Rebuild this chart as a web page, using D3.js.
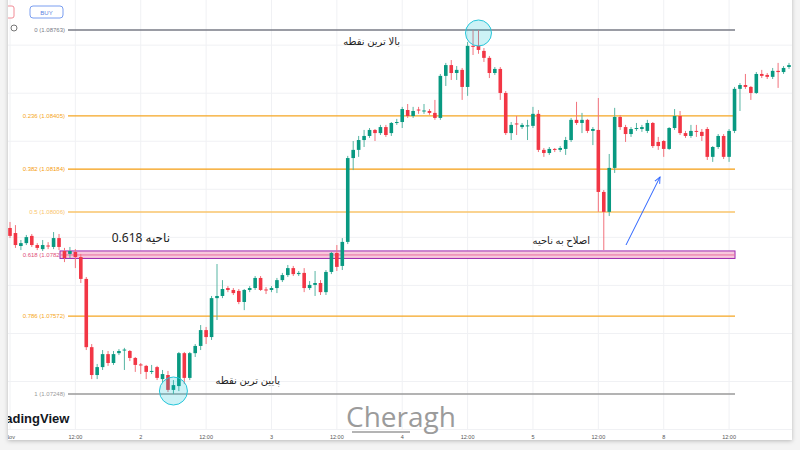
<!DOCTYPE html>
<html><head><meta charset="utf-8">
<script src="https://cdn.jsdelivr.net/npm/d3@7"></script>
<style>body{margin:0;background:#f4f4f4;}svg{display:block}</style>
</head><body>
<script>
// OHLC values
const open=[1.07939,1.07918,1.07864,1.07876,1.07906,1.07868,1.07851,1.07866,1.07860,1.07897,1.07843,1.07831,1.07839,1.07818,1.07727,1.07443,1.07327,1.07360,1.07414,1.07377,1.07418,1.07431,1.07427,1.07398,1.07371,1.07365,1.07340,1.07360,1.07310,1.07327,1.07265,1.07281,1.07418,1.07315,1.07418,1.07448,1.07514,1.07485,1.07647,1.07656,1.07689,1.07681,1.07677,1.07631,1.07681,1.07689,1.07731,1.07683,1.07681,1.07689,1.07722,1.07743,1.07772,1.07747,1.07752,1.07689,1.07702,1.07710,1.07672,1.07756,1.07835,1.07781,1.07881,1.08230,1.08264,1.08305,1.08322,1.08347,1.08334,1.08359,1.08334,1.08376,1.08380,1.08430,1.08405,1.08432,1.08424,1.08426,1.08418,1.08397,1.08572,1.08617,1.08584,1.08597,1.08526,1.08697,1.08697,1.08676,1.08647,1.08584,1.08601,1.08501,1.08334,1.08374,1.08359,1.08364,1.08364,1.08414,1.08264,1.08251,1.08268,1.08264,1.08268,1.08305,1.08389,1.08376,1.08389,1.08343,1.08347,1.08089,1.08006,1.08189,1.08401,1.08359,1.08330,1.08351,1.08351,1.08343,1.08376,1.08297,1.08301,1.08268,1.08355,1.08405,1.08334,1.08322,1.08343,1.08339,1.08351,1.08235,1.08276,1.08322,1.08235,1.08343,1.08518,1.08534,1.08526,1.08501,1.08580,1.08576,1.08568,1.08593,1.08588,1.08609];
const high=[1.07964,1.07951,1.07889,1.07910,1.07914,1.07876,1.07889,1.07880,1.07922,1.07914,1.07856,1.07860,1.07851,1.07831,1.07735,1.07456,1.07373,1.07431,1.07427,1.07427,1.07435,1.07440,1.07431,1.07402,1.07377,1.07369,1.07369,1.07365,1.07348,1.07344,1.07306,1.07423,1.07423,1.07423,1.07456,1.07535,1.07527,1.07656,1.07789,1.07722,1.07697,1.07689,1.07685,1.07685,1.07697,1.07739,1.07739,1.07693,1.07697,1.07731,1.07752,1.07785,1.07781,1.07760,1.07772,1.07718,1.07760,1.07722,1.07764,1.07839,1.07868,1.07897,1.08239,1.08301,1.08322,1.08347,1.08355,1.08351,1.08368,1.08368,1.08380,1.08393,1.08443,1.08455,1.08443,1.08443,1.08455,1.08434,1.08472,1.08580,1.08626,1.08638,1.08613,1.08605,1.08713,1.08763,1.08763,1.08688,1.08655,1.08609,1.08609,1.08509,1.08380,1.08405,1.08376,1.08389,1.08443,1.08430,1.08272,1.08276,1.08272,1.08280,1.08318,1.08397,1.08464,1.08418,1.08393,1.08359,1.08480,1.08097,1.08247,1.08439,1.08409,1.08368,1.08359,1.08376,1.08368,1.08389,1.08380,1.08318,1.08305,1.08359,1.08434,1.08426,1.08343,1.08368,1.08368,1.08351,1.08359,1.08280,1.08330,1.08330,1.08351,1.08526,1.08542,1.08580,1.08530,1.08588,1.08597,1.08584,1.08605,1.08626,1.08613,1.08626];
const low=[1.07897,1.07856,1.07847,1.07868,1.07860,1.07847,1.07843,1.07851,1.07851,1.07847,1.07797,1.07814,1.07772,1.07710,1.07431,1.07310,1.07310,1.07348,1.07365,1.07369,1.07410,1.07348,1.07385,1.07340,1.07331,1.07310,1.07331,1.07306,1.07298,1.07256,1.07248,1.07260,1.07290,1.07306,1.07402,1.07431,1.07456,1.07473,1.07556,1.07647,1.07672,1.07660,1.07622,1.07597,1.07672,1.07681,1.07677,1.07664,1.07672,1.07668,1.07714,1.07735,1.07739,1.07739,1.07672,1.07681,1.07656,1.07660,1.07660,1.07747,1.07760,1.07764,1.07872,1.08180,1.08235,1.08276,1.08314,1.08301,1.08326,1.08318,1.08322,1.08368,1.08355,1.08397,1.08397,1.08414,1.08414,1.08410,1.08389,1.08389,1.08530,1.08555,1.08555,1.08472,1.08489,1.08659,1.08664,1.08630,1.08563,1.08576,1.08472,1.08326,1.08305,1.08326,1.08351,1.08305,1.08355,1.08255,1.08235,1.08243,1.08255,1.08255,1.08243,1.08297,1.08368,1.08334,1.08334,1.08284,1.08006,1.07847,1.07989,1.08168,1.08347,1.08297,1.08318,1.08343,1.08339,1.08334,1.08272,1.08264,1.08235,1.08264,1.08347,1.08326,1.08314,1.08314,1.08318,1.08301,1.08222,1.08214,1.08268,1.08226,1.08214,1.08334,1.08426,1.08518,1.08472,1.08497,1.08563,1.08559,1.08559,1.08522,1.08580,1.08601];
const close=[1.07906,1.07868,1.07876,1.07901,1.07868,1.07856,1.07868,1.07862,1.07897,1.07860,1.07814,1.07843,1.07818,1.07727,1.07443,1.07327,1.07360,1.07414,1.07377,1.07414,1.07427,1.07433,1.07398,1.07369,1.07367,1.07340,1.07344,1.07315,1.07331,1.07265,1.07285,1.07418,1.07315,1.07418,1.07448,1.07514,1.07485,1.07647,1.07656,1.07685,1.07681,1.07668,1.07631,1.07681,1.07689,1.07731,1.07681,1.07679,1.07689,1.07722,1.07743,1.07772,1.07747,1.07752,1.07689,1.07702,1.07710,1.07672,1.07756,1.07835,1.07777,1.07881,1.08230,1.08264,1.08305,1.08322,1.08347,1.08334,1.08359,1.08326,1.08376,1.08380,1.08434,1.08405,1.08426,1.08428,1.08428,1.08418,1.08397,1.08572,1.08617,1.08584,1.08597,1.08526,1.08697,1.08693,1.08680,1.08647,1.08584,1.08601,1.08501,1.08334,1.08368,1.08370,1.08368,1.08366,1.08414,1.08264,1.08251,1.08268,1.08264,1.08272,1.08305,1.08389,1.08376,1.08389,1.08343,1.08351,1.08089,1.08006,1.08189,1.08401,1.08359,1.08330,1.08351,1.08355,1.08359,1.08376,1.08280,1.08280,1.08268,1.08355,1.08405,1.08334,1.08322,1.08343,1.08339,1.08322,1.08235,1.08276,1.08322,1.08235,1.08343,1.08518,1.08534,1.08526,1.08501,1.08580,1.08572,1.08568,1.08593,1.08588,1.08605,1.08617];
const fibRatios=[0,0.236,0.382,0.5,0.618,0.786,1];
const fibHigh=1.08763, fibLow=1.07248;
const fibColors=["#787b86","#f5a623","#f59d10","#f9c46b","#e0507a","#f5a623","#9a9a9a"];
const xTickIdx=[0,12,24,36,48,60,72,84,96,108,120,132];
const xTickLabels=["Nov","12:00","2","12:00","3","12:00","4","12:00","5","12:00","8","12:00"];

const W=800,H=450;
const svg=d3.select("body").append("svg").attr("width",W).attr("height",H);
svg.append("defs").html(`<filter id="sh" x="-5%" y="-5%" width="110%" height="110%"><feDropShadow dx="0" dy="1" stdDeviation="2" flood-color="#000" flood-opacity="0.25"/></filter>
<clipPath id="cp"><rect x="8" y="0" width="784" height="440"/></clipPath>
<marker id="ah" viewBox="0 0 10 10" refX="9" refY="5" markerWidth="7" markerHeight="7" orient="auto"><path d="M0,1 L9,5 L0,9" fill="none" stroke="#2962ff" stroke-width="1.3"/></marker>`);
svg.append("rect").attr("x",8).attr("y",-5).attr("width",784).attr("height",445).attr("fill","#fff").attr("filter","url(#sh)");
const g=svg.append("g").attr("clip-path","url(#cp)");
const x=d3.scaleLinear().domain([0,143]).range([10,789]);
const y=d3.scaleLinear().domain([fibLow,fibHigh]).range([394,30]);
g.selectAll(".hg").data(d3.range(1.071,1.089,0.002)).join("line").attr("x1",8).attr("x2",792).attr("y1",d=>y(d)).attr("y2",d=>y(d)).attr("stroke","#f0f1f4");
g.selectAll(".vg").data(xTickIdx).join("line").attr("x1",d=>x(d)).attr("x2",d=>x(d)).attr("y1",0).attr("y2",430).attr("stroke","#f0f1f4");
const fx1=68,fx2=735;
fibRatios.forEach((r,i)=>{
  const p=fibHigh-r*(fibHigh-fibLow), yy=y(p);
  g.append("line").attr("x1",fx1).attr("x2",fx2).attr("y1",yy).attr("y2",yy).attr("stroke",fibColors[i]).attr("stroke-width",1.3);
  g.append("text").attr("x",65).attr("y",yy+2).attr("text-anchor","end").attr("font-size",6).attr("font-family","Arial, Liberation Sans").attr("fill",fibColors[i]).text(`${r} (${p.toFixed(5)})`);
});
const z=y(fibHigh-0.618*(fibHigh-fibLow));
g.append("rect").attr("x",60).attr("y",z-4).attr("width",675).attr("height",7.5).attr("fill","#f8c8dc").attr("stroke","#9c27b0").attr("stroke-width",1);
g.append("line").attr("x1",60).attr("x2",735).attr("y1",z).attr("y2",z).attr("stroke","#e86fa0").attr("stroke-width",1);
const idx=d3.range(open.length);
const up=i=>close[i]>=open[i];
g.selectAll(".wk").data(idx).join("line").attr("x1",i=>x(i)).attr("x2",i=>x(i)).attr("y1",i=>y(high[i])).attr("y2",i=>y(low[i])).attr("stroke",i=>up(i)?"#57b5a3":"#f2727c").attr("stroke-width",1);
g.selectAll(".bd").data(idx).join("rect").attr("x",i=>x(i)-1.8).attr("width",3.6).attr("y",i=>y(Math.max(open[i],close[i]))).attr("height",i=>Math.max(1,Math.abs(y(open[i])-y(close[i])))).attr("fill",i=>up(i)?"#089981":"#f23645");
g.append("circle").attr("cx",x(86)).attr("cy",33).attr("r",13).attr("fill","rgba(0,188,212,0.2)").attr("stroke","#26c6da").attr("stroke-width",1);
g.append("circle").attr("cx",x(30)).attr("cy",391).attr("r",14).attr("fill","rgba(0,188,212,0.2)").attr("stroke","#26c6da").attr("stroke-width",1);
const tf="Noto Sans, DejaVu Sans, sans-serif";
g.append("text").attr("x",170).attr("y",242).attr("text-anchor","end").attr("font-size",12).attr("font-family",tf).attr("fill","#222").text("ناحیه 0.618");
g.append("text").attr("x",400).attr("y",45).attr("text-anchor","end").attr("font-size",10).attr("font-family",tf).attr("fill","#222").text("بالا ترین نقطه");
g.append("text").attr("x",280).attr("y",384).attr("text-anchor","end").attr("font-size",10).attr("font-family",tf).attr("fill","#222").text("پایین ترین نقطه");
g.append("text").attr("x",590).attr("y",244).attr("text-anchor","end").attr("font-size",10).attr("font-family",tf).attr("fill","#222").text("اصلاح به ناحیه");
g.append("line").attr("x1",626).attr("y1",245).attr("x2",660).attr("y2",177).attr("stroke","#2962ff").attr("stroke-width",1).attr("marker-end","url(#ah)");
g.selectAll(".xt").data(xTickIdx).join("text").attr("x",d=>x(d)).attr("y",439).attr("text-anchor","middle").attr("font-size",5.5).attr("font-family","Arial, Liberation Sans").attr("fill","#555").text((d,i)=>xTickLabels[i]);
g.append("text").attr("x",-7).attr("y",423).attr("font-size",13).attr("font-weight","bold").attr("font-family","Liberation Sans, Arial").attr("fill","#131722").text("TradingView");
svg.append("text").attr("x",346).attr("y",427).attr("font-size",28).attr("font-family","Open Sans, Noto Sans").attr("fill","#9b9b9b").text("Cheragh");
svg.append("line").attr("x1",352).attr("x2",410).attr("y1",432).attr("y2",432).attr("stroke","#9b9b9b").attr("stroke-width",1.5);
g.append("rect").attr("x",30).attr("y",6).attr("width",33).attr("height",12).attr("rx",3).attr("fill","#fff").attr("stroke","#7a9ef0");
g.append("text").attr("x",46.5).attr("y",15).attr("text-anchor","middle").attr("font-size",6).attr("font-family","Arial").attr("fill","#5b7fe0").text("BUY");
g.append("rect").attr("x",4).attr("y",6).attr("width",10).attr("height",12).attr("rx",2).attr("fill","#fff").attr("stroke","#f28c96");
g.append("circle").attr("cx",14).attr("cy",28).attr("r",3).attr("fill","none").attr("stroke","#555").attr("stroke-width",0.8);
</script>
</body></html>
